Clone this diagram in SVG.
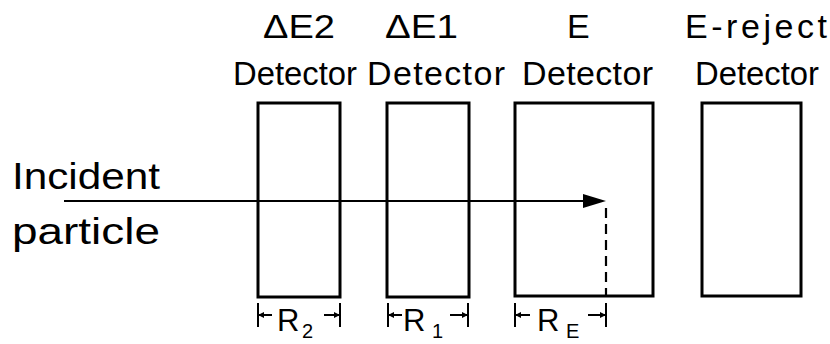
<svg xmlns="http://www.w3.org/2000/svg" width="830" height="344" viewBox="0 0 830 344">
<style>
.t{font-family:"Liberation Sans","DejaVu Sans",sans-serif;fill:#000;font-size:34px}
.sub{font-size:20px}
.box{fill:none;stroke:#000;stroke-width:3}
.ln{stroke:#000;stroke-width:2.2;fill:none}
.dim{stroke:#000;stroke-width:2;fill:none}
</style>
<rect width="830" height="344" fill="#fff"/>
<g id="labels">
<text class="t" x="263" y="38" textLength="72" lengthAdjust="spacingAndGlyphs">ΔE2</text>
<text class="t" x="385" y="38" textLength="73" lengthAdjust="spacingAndGlyphs">ΔE1</text>
<text class="t" x="567" y="38">E</text>
<text class="t" x="685" y="38" textLength="142" lengthAdjust="spacing">E-reject</text>
<text class="t" x="233" y="85" textLength="124" lengthAdjust="spacingAndGlyphs">Detector</text>
<text class="t" x="367" y="85" textLength="138" lengthAdjust="spacing">Detector</text>
<text class="t" x="522" y="85" textLength="131" lengthAdjust="spacing">Detector</text>
<text class="t" x="695" y="85" textLength="124" lengthAdjust="spacingAndGlyphs">Detector</text>
<text class="t" x="12" y="189" textLength="148" lengthAdjust="spacingAndGlyphs" style="font-size:36px">Incident</text>
<text class="t" x="12" y="244" textLength="148" lengthAdjust="spacingAndGlyphs" style="font-size:36px">particle</text>
</g>
<g id="det-dE2"><rect class="box" x="258" y="103" width="82" height="194"/></g>
<g id="det-dE1"><rect class="box" x="387" y="103" width="82" height="194"/></g>
<g id="det-E"><rect class="box" x="515" y="103" width="138" height="193"/></g>
<g id="det-Ereject"><rect class="box" x="702" y="103" width="99" height="193"/></g>
<g id="connectors">
<line class="ln" x1="64" y1="201" x2="588" y2="201"/>
<polygon points="583,194 606,201 583,208" fill="#000"/>
<line class="ln" x1="606" y1="208" x2="606" y2="296" stroke-dasharray="10,6"/>
</g>
<g id="dimensions">
<path class="dim" d="M258,303 V327 M258,315 H272 M324,315 H340 M340,303 V327"/>
<polygon points="258,315 264,312 264,318"/>
<polygon points="340,315 334,312 334,318"/>
<path class="dim" d="M388,303 V327 M388,315 H402 M450,315 H468 M468,303 V327"/>
<polygon points="388,315 394,312 394,318"/>
<polygon points="468,315 462,312 462,318"/>
<path class="dim" d="M515,303 V327 M515,315 H530 M588,315 H606 M606,303 V327"/>
<polygon points="515,315 521,312 521,318"/>
<polygon points="606,315 600,312 600,318"/>
<text class="t" x="277" y="331" style="font-size:31px">R</text>
<text class="t sub" x="302" y="338">2</text>
<text class="t" x="403" y="331" style="font-size:31px">R</text>
<text class="t sub" x="432" y="338">1</text>
<text class="t" x="537" y="331" style="font-size:31px">R</text>
<text class="t sub" x="566" y="338">E</text>
</g>
</svg>
